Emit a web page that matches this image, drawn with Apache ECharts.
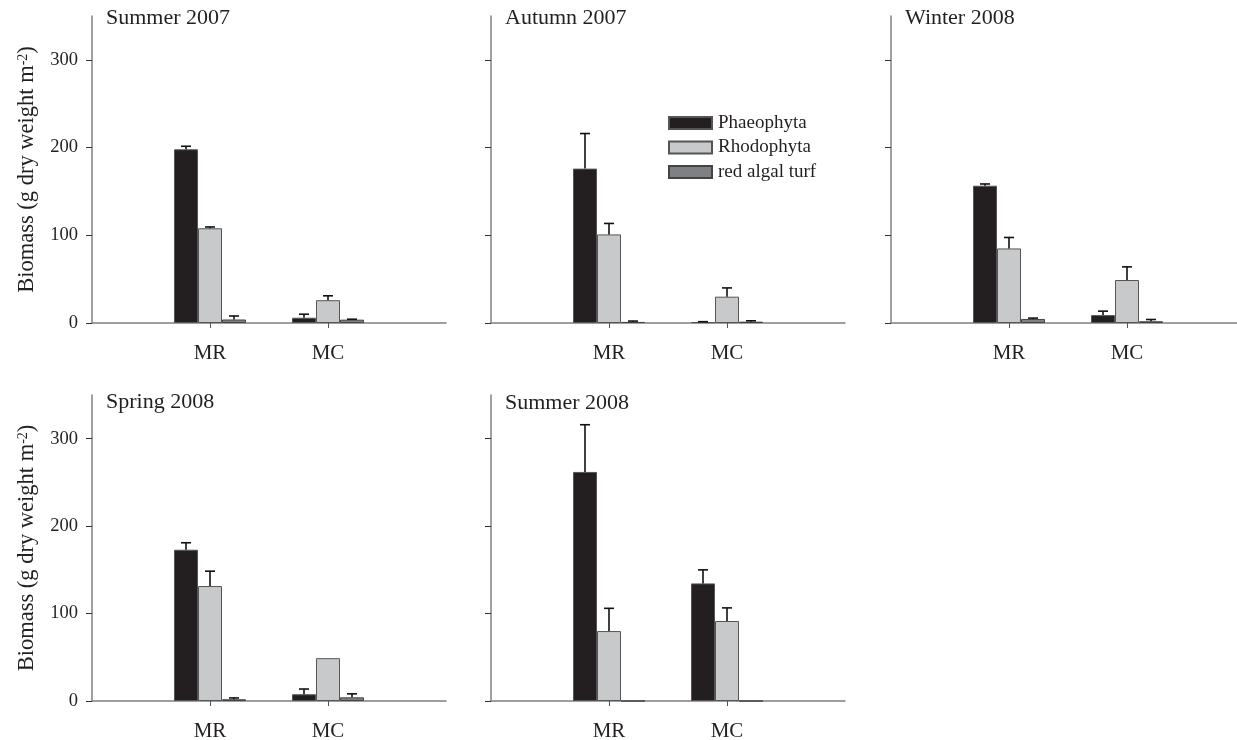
<!DOCTYPE html>
<html>
<head>
<meta charset="utf-8">
<title>Seasonal algal biomass</title>
<script src="https://cdn.jsdelivr.net/npm/echarts@6/dist/echarts.min.js"></script>
<style>
  html, body { margin: 0; padding: 0; background: #ffffff; }
  #chart { width: 1237px; height: 740px; }
</style>
</head>
<body>
<div id="chart"></div>
<script>
// Sites and sampling seasons
const sites = ['MR', 'MC'];
const seasons = ['Summer 2007', 'Autumn 2007', 'Winter 2008', 'Spring 2008', 'Summer 2008'];
const groups = ['Phaeophyta', 'Rhodophyta', 'red algal turf'];

// Mean biomass per season: [MR, MC]
const phaeophyta   = [[198, 6],   [176, 1],    [156.5, 9], [173, 7.7],   [262, 134.5]];
const rhodophyta   = [[108, 26],  [101, 30],   [85, 49],   [131.5, 49],  [80, 91.5]];
const redAlgalTurf = [[4, 3.8],   [1.2, 1.5],  [4.6, 2],   [2, 4.2],     [0, 0]];

// Standard errors (upper whisker): [MR, MC]
const phaeophytaErr   = [[3.5, 4],  [40, 0.5],  [2, 4.5],   [8, 6],     [54, 15.5]];
const rhodophytaErr   = [[1.5, 5],  [12.5, 10], [12.5, 15], [17, 0],    [26, 15]];
const redAlgalTurfErr = [[4, 0.5],  [1, 1],     [1, 2],     [1.5, 4],   [0, 0]];

const yTicks = [0, 100, 200, 300];

const means = [phaeophyta, rhodophyta, redAlgalTurf];
const errs = [phaeophytaErr, rhodophytaErr, redAlgalTurfErr];
const fills = ['#231f20', '#c8c9cb', '#7e8083'];
const borders = ['#555555', '#555555', '#444444'];

const FONT = "'Liberation Serif', 'Times New Roman', serif";
const INK = '#231f20';
const BAR_W = 24;

// Panel placement (px)
const panels = [
  { left: 92,  top: 16,  labels: true,  titleDy: -9 },
  { left: 491, top: 16,  labels: false, titleDy: -9 },
  { left: 891, top: 16,  labels: false, titleDy: -9 },
  { left: 92,  top: 395, labels: true,  titleDy: -4 },
  { left: 491, top: 395, labels: false, titleDy: -3 }
];
const PANEL_W = 354;
const PANEL_H = [307, 307, 307, 306, 306];

// Category slots: empty padding on both ends so MR / MC sit at 1/3 and 2/3
const xCats = ['', sites[0], sites[1], ''];

const grid = [], xAxis = [], yAxis = [], series = [], title = [];

panels.forEach((p, i) => {
  grid.push({
    left: p.left, top: p.top, width: PANEL_W, height: PANEL_H[i],
    containLabel: false, outerBoundsMode: 'none'
  });

  title.push({
    text: seasons[i],
    left: p.left + 14,
    top: p.top + p.titleDy,
    padding: 0,
    textStyle: { fontFamily: FONT, fontSize: 22, fontWeight: 'normal', color: INK, lineHeight: 22 }
  });

  xAxis.push({
    type: 'category',
    gridIndex: i,
    data: xCats,
    boundaryGap: false,
    axisLine: { lineStyle: { color: '#808080', width: 1.5 } },
    axisTick: {
      show: true,
      length: 5,
      interval: (idx) => idx === 1 || idx === 2,
      lineStyle: { color: '#555555', width: 1 }
    },
    axisLabel: {
      interval: 0,
      margin: 20,
      fontFamily: FONT,
      fontSize: 21,
      color: INK
    },
    splitLine: { show: false }
  });

  yAxis.push({
    type: 'value',
    gridIndex: i,
    min: 0,
    max: 350,
    interval: 100,
    name: p.labels ? 'Biomass (g dry weight m{sup|-2})' : '',
    nameLocation: 'middle',
    nameGap: 53,
    nameTextStyle: {
      fontFamily: FONT,
      fontSize: 22.5,
      color: INK,
      rich: {
        sup: { fontFamily: FONT, fontSize: 14, color: INK, verticalAlign: 'top', lineHeight: 14, padding: [0, 0, 9, 0] }
      }
    },
    axisLine: { show: true, lineStyle: { color: '#808080', width: 1.5 } },
    axisTick: {
      show: true,
      length: 6,
      customValues: yTicks,
      lineStyle: { color: '#333333', width: 1 }
    },
    axisLabel: {
      show: p.labels,
      customValues: yTicks,
      margin: 14,
      fontFamily: FONT,
      fontSize: 18.5,
      color: INK
    },
    splitLine: { show: false }
  });

  // Bars for each algal group
  groups.forEach((g, k) => {
    series.push({
      name: g,
      type: 'bar',
      xAxisIndex: i,
      yAxisIndex: i,
      barWidth: BAR_W,
      barGap: '0%',
      data: ['-', means[k][i][0], means[k][i][1], '-'],
      itemStyle: { color: fills[k], borderColor: borders[k], borderWidth: 1 },
      emphasis: { disabled: true },
      animation: false
    });
  });

  // Upper error whiskers
  const errData = [];
  groups.forEach((g, k) => {
    sites.forEach((s, j) => {
      const e = errs[k][i][j];
      if (e > 0) errData.push([j + 1, means[k][i][j], e, k]);
    });
  });
  series.push({
    type: 'custom',
    xAxisIndex: i,
    yAxisIndex: i,
    z: 5,
    silent: true,
    animation: false,
    encode: { x: 0, y: 1 },
    data: errData,
    renderItem: (params, api) => {
      const cat = api.value(0), m = api.value(1), e = api.value(2), k = api.value(3);
      const base = api.coord([cat, m]);
      const tip = api.coord([cat, m + e]);
      const x = base[0] + (k - 1) * BAR_W;
      const style = { stroke: '#111111', lineWidth: 1.6 };
      return {
        type: 'group',
        children: [
          { type: 'line', shape: { x1: x, y1: base[1], x2: x, y2: tip[1] }, style },
          { type: 'line', shape: { x1: x - 5, y1: tip[1], x2: x + 5, y2: tip[1] }, style }
        ]
      };
    }
  });
});

const chart = echarts.init(document.getElementById('chart'), null, { renderer: 'canvas' });
chart.setOption({
  backgroundColor: '#ffffff',
  animation: false,
  title,
  legend: {
    data: groups,
    orient: 'vertical',
    left: 668,
    top: 113.5,
    padding: 0,
    itemWidth: 43,
    itemHeight: 12,
    itemGap: 5.5,
    icon: 'rect',
    selectedMode: false,
    textStyle: { fontFamily: FONT, fontSize: 19, color: INK, lineHeight: 19, padding: [0, 0, 0, 1] }
  },
  grid,
  xAxis,
  yAxis,
  series
});
</script>
</body>
</html>
